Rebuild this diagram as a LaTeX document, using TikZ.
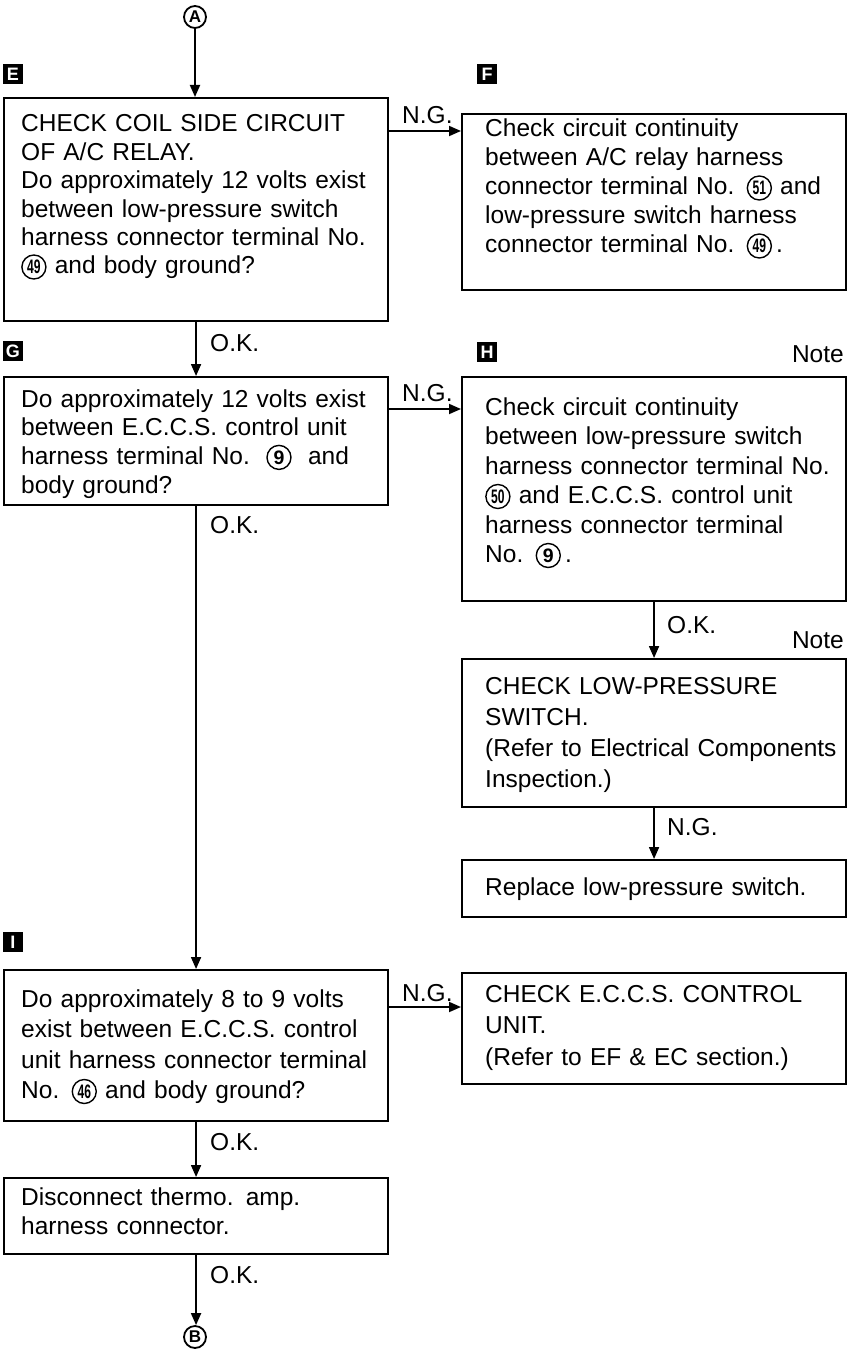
\documentclass[tikz,border=0pt]{standalone}
\usepackage{fontspec}
\setmainfont{Liberation Sans}
\usetikzlibrary{arrows.meta}
\newcommand{\cnum}[1]{\tikz[x=1pt,y=1pt,baseline={([yshift=-7pt]cn.center)}]\node[cnumst](cn){#1};}
\newcommand{\cnumtwo}[1]{\cnum{\scalebox{0.62}[1]{#1}}}
\tikzset{
 box/.style={draw, line width=2.1pt, inner sep=0pt, anchor=north west, minimum width=#1},
 box/.default=384pt,
 txt/.style={anchor=base west, inner sep=0pt, text width=372pt, align=left, font=\fontsize{24.5}{#1}\selectfont},
 txt/.default=31.5pt,
 lbl/.style={anchor=base west, inner sep=0pt, font=\fontsize{24.5}{31.5}\selectfont},
 notelbl/.style={anchor=base east, inner sep=0pt, font=\fontsize{24.5}{31.5}\selectfont},
 sq/.style={fill=black, text=white, inner sep=0pt, minimum size=20pt, font=\fontsize{18}{18}\bfseries\selectfont},
 term/.style={circle, draw, line width=1.8pt, inner sep=0pt, minimum size=22pt, font=\fontsize{17}{17}\bfseries\selectfont},
 arr/.style={line width=1.8pt, -{Triangle[length=12pt,width=10pt]}},
 cnumst/.style={circle, draw, line width=1.4pt, inner sep=0pt, minimum size=24pt, font=\fontsize{19.5}{19.5}\bfseries\selectfont},
}
\begin{document}
\begin{tikzpicture}[x=1pt,y=-1pt]
\useasboundingbox (0,0) rectangle (855,1351);
% terminals
\node[term] (A) at (195,17) {A};
\node[term] (B) at (195,1337) {B};
% step squares
\node[sq] (sE) at (13,74) {E};
\node[sq] (sF) at (487,74) {F};
\node[sq] (sG) at (13,351) {G};
\node[sq] (sH) at (487,352) {H};
\node[sq] (sI) at (13,942) {I};
% boxes
\node[box] [minimum height=223pt] (E) at (3,97) {};
\node[box] [minimum height=176pt] (F) at (461,113) {};
\node[box] [minimum height=128pt] (G) at (3,376) {};
\node[box] [minimum height=224pt] (H) at (461,376) {};
\node[box] [minimum height=148pt] (L) at (461,658) {};
\node[box] [minimum height=57pt] (R) at (461,859) {};
\node[box] [minimum height=151pt] (I) at (3,969) {};
\node[box] [minimum height=111pt] (C) at (461,972) {};
\node[box] [minimum height=76pt] (D) at (3,1177) {};
% texts
\node[txt=28.4pt] (Et) at (21,132) {CHECK COIL SIDE CIRCUIT\\OF A/C RELAY.\\Do approximately 12 volts exist\\between low-pressure switch\\harness connector terminal No.\\\cnumtwo{49} and body ground?};
\node[txt=29pt] (Ft) at (485,137) {Check circuit continuity\\between A/C relay harness\\connector terminal No. \cnumtwo{51} and\\low-pressure switch harness\\connector terminal No. \cnumtwo{49}\,.};
\node[txt=28.7pt] (Gt) at (21,407) {Do approximately 12 volts exist\\between E.C.C.S. control unit\\harness terminal No.\ \ \cnum{9}\ \ and\\body ground?};
\node[txt=29.5pt] (Ht) at (485,415) {Check circuit continuity\\between low-pressure switch\\harness connector terminal No.\\\cnumtwo{50} and E.C.C.S. control unit\\harness connector terminal\\No. \cnum{9}\,.};
\node[txt=31.3pt] (Lt) at (485,694) {CHECK LOW-PRESSURE\\SWITCH.\\(Refer to Electrical Components\\Inspection.)};
\node[txt] (Rt) at (485,895) {Replace low-pressure switch.};
\node[txt=30.5pt] (It) at (21,1007) {Do approximately 8 to 9 volts\\exist between E.C.C.S. control\\unit harness connector terminal\\No. \cnumtwo{46} and body ground?};
\node[txt] (Ct) at (485,1002) {CHECK E.C.C.S. CONTROL\\UNIT.\\(Refer to EF \& EC section.)};
\node[txt=29.5pt] (Dt) at (21,1205) {Disconnect thermo. amp.\\harness connector.};
% connectors
\draw[arr] (A) -- (A |- E.north);
\draw[arr] ([yshift=-34pt]E.north east) -- ([yshift=-34pt]E.north east -| F.west);
\draw[arr] (E.south) -- (G.north);
\draw[arr] ([yshift=-33pt]G.north east) -- ([yshift=-33pt]G.north east -| H.west);
\draw[arr] (G.south) -- (I.north);
\draw[arr] (H.south) -- (L.north);
\draw[arr] (L.south) -- (R.north);
\draw[arr] ([yshift=-38pt]I.north east) -- ([yshift=-38pt]I.north east -| C.west);
\draw[arr] (I.south) -- (D.north);
\draw[arr] (D.south) -- (D.south |- B.north);
% labels
\node[lbl] (ng1) at (402,124) {N.G.};
\node[lbl] (ng2) at (402,401) {N.G.};
\node[lbl] (ng3) at (402,1001) {N.G.};
\node[lbl] (ok1) at (210,351) {O.K.};
\node[lbl] (ok2) at (210,533) {O.K.};
\node[lbl] (ok3) at (667,633) {O.K.};
\node[lbl] (ng4) at (667,835) {N.G.};
\node[lbl] (ok4) at (210,1150) {O.K.};
\node[lbl] (ok5) at (210,1283) {O.K.};
\node[notelbl] (n1) at (844,362) {Note};
\node[notelbl] (n2) at (844,648) {Note};
\end{tikzpicture}
\end{document}
